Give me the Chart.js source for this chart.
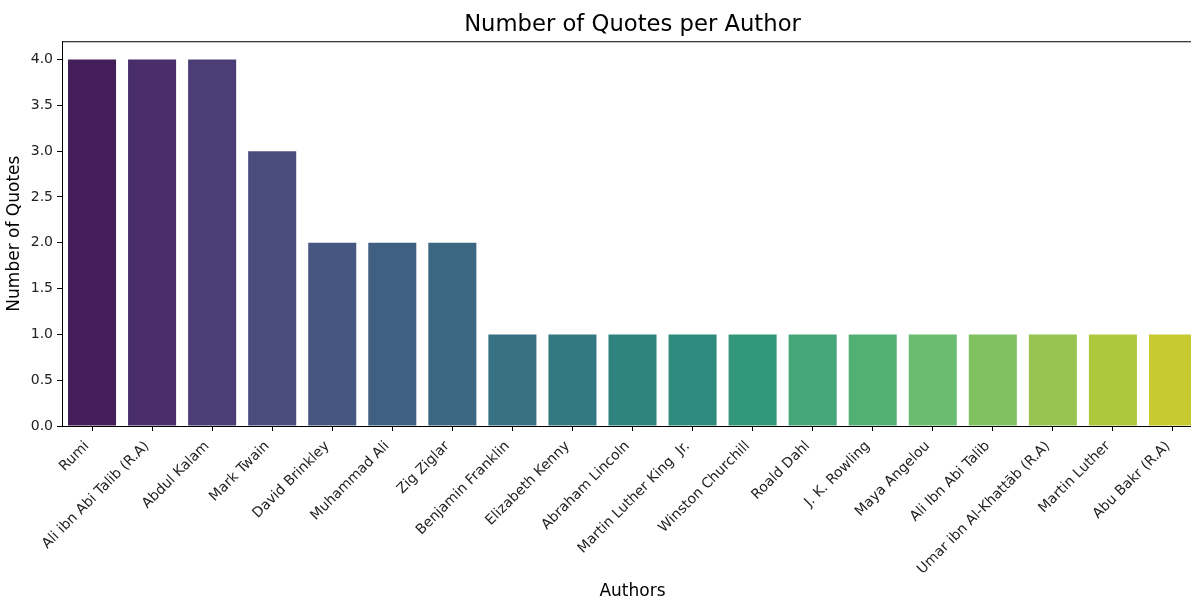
<!DOCTYPE html>
<html>
<head>
<meta charset="utf-8">
<script src="https://cdn.jsdelivr.net/npm/chart.js@4.4.1/dist/chart.umd.min.js"></script>
<style>
  html, body { margin: 0; padding: 0; background: #fff; overflow: hidden; }
  #wrap { width: 1203px; height: 600px; }
</style>
</head>
<body>
<div id="wrap"><canvas id="quotesChart"></canvas></div>
<script>
// authors and how many quotes each one has
const authors = ["Rumi", "Ali ibn Abi Talib (R.A)", "Abdul Kalam", "Mark Twain", "David Brinkley",
  "Muhammad Ali", "Zig Ziglar", "Benjamin Franklin", "Elizabeth Kenny", "Abraham Lincoln",
  "Martin Luther King  Jr.", "Winston Churchill", "Roald Dahl", "J. K. Rowling", "Maya Angelou",
  "Ali Ibn Abi Talib", "Umar ibn Al-Khattāb (R.A)", "Martin Luther", "Abu Bakr (R.A)"];
const quoteCounts = [4, 4, 4, 3, 2, 2, 2, 1, 1, 1, 1, 1, 1, 1, 1, 1, 1, 1, 1];
const yTicks = [0, 0.5, 1, 1.5, 2, 2.5, 3, 3.5, 4];

// viridis samples, seaborn style
const viridis = ["#471365", "#482475", "#46337f", "#414487", "#3b528b", "#355f8d", "#306a8e",
  "#2a788e", "#25838e", "#21918c", "#1e9c89", "#22a884", "#35b779", "#44bf70", "#5ec962",
  "#7ad151", "#9bd93c", "#bddf26", "#dfe318"];

// seaborn barplot desaturates to 0.75 (HLS)
function desat(hex, prop) {
  let r = parseInt(hex.slice(1, 3), 16) / 255, g = parseInt(hex.slice(3, 5), 16) / 255, b = parseInt(hex.slice(5, 7), 16) / 255;
  const mx = Math.max(r, g, b), mn = Math.min(r, g, b);
  const l = (mx + mn) / 2;
  if (mx === mn) return hex;
  let s = l <= 0.5 ? (mx - mn) / (mx + mn) : (mx - mn) / (2 - mx - mn);
  s *= prop;
  const hi = l <= 0.5 ? l * (1 + s) : l + s - l * s;
  const lo = 2 * l - hi;
  // keep relative position of each channel between min and max
  const f = v => lo + (v - mn) / (mx - mn) * (hi - lo);
  const h = v => Math.round(f(v) * 255).toString(16).padStart(2, "0");
  return "#" + h(r) + h(g) + h(b);
}
const barColors = viridis.map(c => desat(c, 0.75));

const FONT = "'DejaVu Sans', sans-serif";

// box around the plot area (top spine; right one is off-screen like the original)
const frame = {
  id: "frame",
  afterDraw(chart) {
    const { ctx, chartArea: a } = chart;
    ctx.save();
    ctx.strokeStyle = "#000";
    ctx.lineWidth = 1;
    ctx.strokeRect(a.left + 0.5, a.top + 0.5, a.right - a.left, a.bottom - a.top);
    ctx.restore();
  }
};

new Chart(document.getElementById("quotesChart"), {
  type: "bar",
  data: {
    labels: authors,
    datasets: [{
      data: quoteCounts,
      backgroundColor: barColors,
      borderWidth: 0,
      categoryPercentage: 1.0,
      barPercentage: 0.8
    }]
  },
  options: {
    responsive: true,
    maintainAspectRatio: false,
    animation: false,
    layout: { padding: 0 },
    plugins: {
      legend: { display: false },
      tooltip: { enabled: false },
      title: {
        display: true,
        text: "Number of Quotes per Author",
        fullSize: false,
        color: "#000",
        font: { family: FONT, size: 22.7, weight: "normal" },
        padding: { top: 11, bottom: 3 }
      }
    },
    scales: {
      x: {
        grid: { display: true, offset: false, drawOnChartArea: false, drawTicks: true, tickLength: 5, color: "#000" },
        border: { display: true, color: "#000", width: 1 },
        ticks: {
          autoSkip: false, minRotation: 45, maxRotation: 45, padding: 7, labelOffset: -5,
          color: "#222", font: { family: FONT, size: 14 }
        },
        title: {
          display: true, text: "Authors", color: "#000",
          font: { family: FONT, size: 17 }, padding: { top: 0, bottom: -2 }
        },
        afterFit(scale) { scale.height = 174; }
      },
      y: {
        min: 0,
        max: 4.2,
        grid: { display: true, drawOnChartArea: false, drawTicks: true, tickLength: 5, color: "#000" },
        border: { display: true, color: "#000", width: 1 },
        afterBuildTicks(scale) { scale.ticks = yTicks.map(v => ({ value: v })); },
        ticks: {
          padding: 4, color: "#222", font: { family: FONT, size: 14 },
          callback: v => Number(v).toFixed(1)
        },
        title: {
          display: true, text: "Number of Quotes", color: "#000",
          font: { family: FONT, size: 17 }, padding: { top: 4, bottom: 0 }
        },
        afterFit(scale) { scale.width = 62; }
      }
    }
  },
  plugins: [frame]
});
</script>
</body>
</html>
